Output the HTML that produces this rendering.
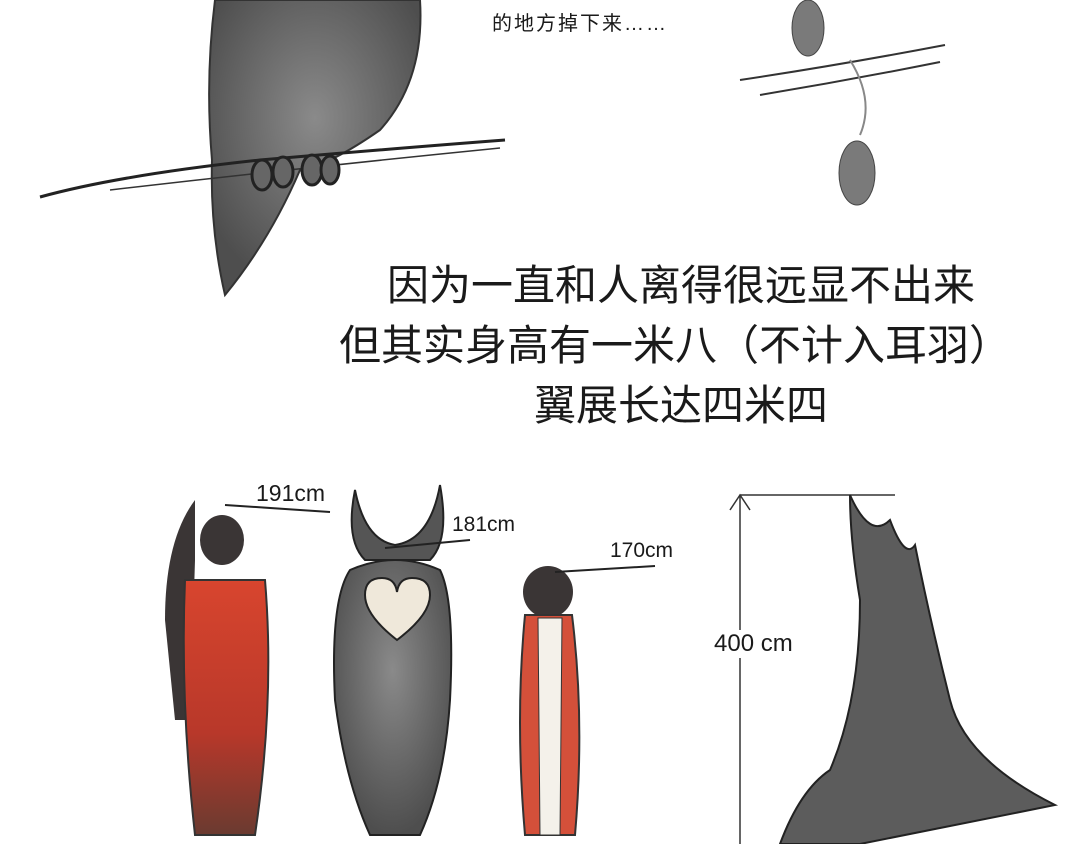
<!DOCTYPE html>
<html><head><meta charset="utf-8"><style>
html,body{margin:0;padding:0;background:#fff;}
body{width:1080px;height:844px;position:relative;overflow:hidden;font-family:"Liberation Sans","Noto Sans CJK SC",sans-serif;}
.t{position:absolute;color:#1a1a1a;white-space:nowrap;}
</style></head><body>
<svg width="1080" height="844" style="position:absolute;left:0;top:0">
<defs>
<radialGradient id="g1" cx="50%" cy="40%" r="60%"><stop offset="0" stop-color="#8a8a8a"/><stop offset="1" stop-color="#4e4e4e"/></radialGradient>
<linearGradient id="red" x1="0" y1="0" x2="0" y2="1"><stop offset="0" stop-color="#d8452e"/><stop offset="0.6" stop-color="#b8382a"/><stop offset="1" stop-color="#6a3a30"/></linearGradient>
</defs>
<path d="M215 0 L420 0 Q425 80 380 130 Q330 165 300 170 Q270 240 225 295 Q210 230 212 160 Q205 80 215 0Z" fill="url(#g1)" stroke="#333" stroke-width="2"/>
<path d="M40 197 Q120 175 260 160 Q400 148 505 140" fill="none" stroke="#222" stroke-width="3"/>
<path d="M110 190 Q300 168 500 148" fill="none" stroke="#333" stroke-width="1.5"/>
<g fill="#666" stroke="#222" stroke-width="3"><ellipse cx="262" cy="175" rx="10" ry="15"/><ellipse cx="283" cy="172" rx="10" ry="15"/><ellipse cx="312" cy="170" rx="10" ry="15"/><ellipse cx="330" cy="170" rx="9" ry="14"/></g>
<ellipse cx="808" cy="28" rx="16" ry="28" fill="#7a7a7a" stroke="#444"/>
<path d="M740 80 Q840 65 945 45 M760 95 Q850 80 940 62" fill="none" stroke="#333" stroke-width="2"/>
<path d="M850 60 Q875 100 860 135" fill="none" stroke="#888" stroke-width="2"/>
<ellipse cx="857" cy="173" rx="18" ry="32" fill="#7a7a7a" stroke="#444"/>
<path d="M195 500 Q165 540 165 620 L175 720 L190 720 L195 560Z" fill="#3a3535"/>
<ellipse cx="222" cy="540" rx="22" ry="25" fill="#3a3535"/>
<path d="M185 580 L265 580 Q275 700 255 835 L195 835 Q180 700 185 580Z" fill="url(#red)" stroke="#333" stroke-width="2"/>
<path d="M225 505 L330 512" stroke="#222" stroke-width="2"/>
<path d="M355 490 Q345 540 365 560 L430 560 Q450 540 440 485 Q430 540 395 545 Q365 540 355 490Z" fill="#555" stroke="#222" stroke-width="2"/>
<path d="M350 570 Q330 600 335 700 Q345 780 370 835 L420 835 Q445 780 450 700 Q455 600 440 570 Q395 550 350 570Z" fill="url(#g1)" stroke="#222" stroke-width="2"/>
<path d="M397 640 Q365 615 365 595 Q365 578 382 578 Q395 578 397 592 Q399 578 412 578 Q430 578 430 595 Q430 615 397 640Z" fill="#efe8da" stroke="#222" stroke-width="2"/>
<path d="M385 548 L470 540" stroke="#222" stroke-width="2"/>
<ellipse cx="548" cy="592" rx="25" ry="26" fill="#3a3535"/>
<path d="M525 615 L572 615 Q585 720 575 835 L525 835 Q515 720 525 615Z" fill="#d4503a" stroke="#333" stroke-width="2"/>
<path d="M538 618 L562 618 L560 835 L540 835Z" fill="#f4f1ea" stroke="#333"/>
<path d="M555 572 L655 566" stroke="#222" stroke-width="2"/>
<path d="M740 495 L740 844 M730 510 L740 495 L750 510 M740 495 L895 495" fill="none" stroke="#333" stroke-width="1.5"/>
<path d="M850 495 Q870 540 890 520 Q905 560 915 545 Q930 620 950 700 Q965 760 1055 805 L930 830 L860 844 L780 844 Q800 790 830 770 Q860 700 860 600 Q850 540 850 495Z" fill="#5c5c5c" stroke="#222" stroke-width="2"/>
</svg>
<div class="t" style="left:492px;top:7px;font-size:20px;letter-spacing:2px;">的地方掉下来……</div>
<div class="t" style="left:0;width:1362px;top:252px;font-size:42px;text-align:center;">因为一直和人离得很远显不出来</div>
<div class="t" style="left:0;width:1350px;top:312px;font-size:42px;text-align:center;">但其实身高有一米八（不计入耳羽）</div>
<div class="t" style="left:0;width:1362px;top:372px;font-size:42px;text-align:center;">翼展长达四米四</div>
<div class="t" style="left:256px;top:480px;font-size:23px;">191cm</div>
<div class="t" style="left:452px;top:513px;font-size:21px;">181cm</div>
<div class="t" style="left:610px;top:539px;font-size:21px;">170cm</div>
<div class="t" style="left:714px;top:630px;font-size:24px;background:#fff;">400 cm</div>
</body></html>
